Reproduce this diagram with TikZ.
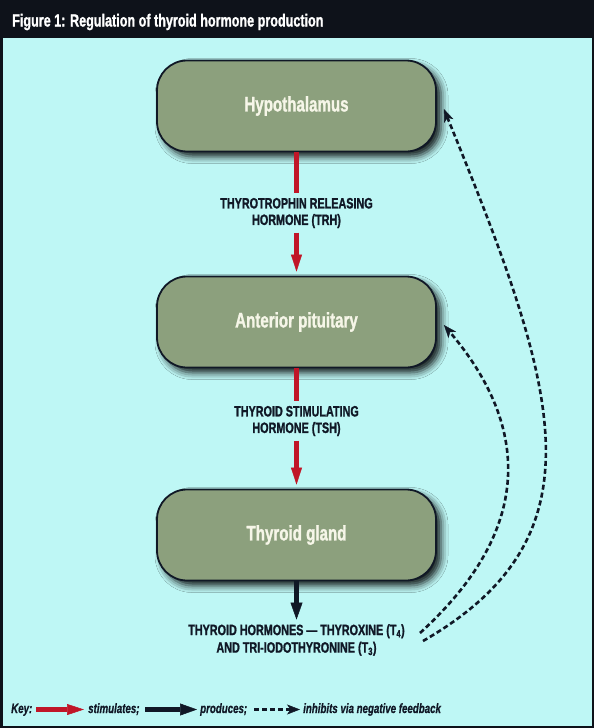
\documentclass[tikz,border=0pt]{standalone}
\usepackage{fontspec}
\setmainfont{Liberation Sans}[FakeStretch=0.72, BoldFeatures={FakeBold=1.2}, BoldItalicFeatures={FakeBold=0.6}]
\usetikzlibrary{arrows.meta,shadows.blur}
\definecolor{bg}{RGB}{190,247,245}
\definecolor{hdr}{RGB}{14,18,26}
\definecolor{navy}{RGB}{16,24,38}
\definecolor{boxc}{RGB}{140,160,125}
\definecolor{boxtxt}{RGB}{246,246,232}
\definecolor{redc}{RGB}{192,22,40}
\tikzset{
  box/.style={draw=navy, line width=1.8pt, fill=boxc, rounded corners=30pt,
    minimum width=279pt, minimum height=91pt, text=boxtxt,
    font=\bfseries\fontsize{21}{24}\selectfont,
    blur shadow={shadow xshift=5pt, shadow yshift=-5pt, shadow blur radius=7pt, shadow opacity=90}},
  lbl/.style={align=center, font=\bfseries\fontsize{15}{16.5}\selectfont, text=navy,
    inner xsep=2pt, inner ysep=4.5pt},
  stim/.style={draw=redc, line width=4.5pt, -{Triangle[length=17pt,width=11pt,line width=0.5pt]}},
  stimline/.style={draw=redc, line width=4.5pt},
  prod/.style={draw=navy, line width=4.5pt, -{Triangle[length=17pt,width=12pt,line width=0.5pt]}},
  fb/.style={draw=navy, line width=2.6pt, dash pattern=on 5pt off 3pt,
    -{Stealth[length=13pt,width=10pt,inset=3.5pt,line width=0.5pt]}},
  keytxt/.style={font=\bfseries\itshape\fontsize{13.5}{16}\selectfont, text=navy,
    inner sep=0pt, text height=10pt, text depth=3pt, anchor=base west},
}
\begin{document}
\begin{tikzpicture}[x=1pt,y=-1pt]
\useasboundingbox (0,0) rectangle (594,728);
\fill[bg] (0,0) rectangle (594,728);
\fill[hdr] (0,0) rectangle (594,38);
\draw[hdr, line width=2.5pt] (1.25,1.25) rectangle (592.75,726.75);
\node[anchor=base west, inner sep=0pt, text=white, font=\bfseries\fontsize{17.5}{20}\selectfont]
  (title) at (12,26.5) {Figure 1: Regulation of thyroid hormone production};

\node[box] (hyp) at (296.5,106) {Hypothalamus};
\node[box] (pit) at (296.5,322) {Anterior pituitary};
\node[box] (thy) at (296.5,535) {Thyroid gland};

\node[lbl] (trh) at (296.5,213) {THYROTROPHIN RELEASING\\HORMONE (TRH)};
\node[lbl] (tsh) at (296.5,421) {THYROID STIMULATING\\HORMONE (TSH)};
\node[lbl, font=\bfseries\fontsize{15}{17.5}\selectfont] (hor) at (296.5,640)
  {THYROID HORMONES — THYROXINE (T\textsubscript{4})\\AND TRI-IODOTHYRONINE (T\textsubscript{3})};

\draw[stimline] (hyp.south) -- (trh.north);
\draw[stim, shorten >=4pt] (trh.south) -- (pit.north);
\draw[stimline] (pit.south) -- (tsh.north);
\draw[stim, shorten >=4pt] (tsh.south) -- (thy.north);
\draw[prod] (thy.south) -- (hor.north);

\coordinate (fb1) at (420,633);
\coordinate (fb2) at (423,641);
\draw[fb] (fb1) .. controls (532,531) and (532,429) .. ([shift={(7,3)}]pit.east);
\draw[fb] (fb2) .. controls (607,535) and (558,388) .. ([shift={(7,3)}]hyp.east);

\node[keytxt] (k0) at (11,713) {Key:};
\node[keytxt] (k1) at (88,713) {stimulates;};
\node[keytxt] (k2) at (200,713) {produces;};
\node[keytxt] (k3) at (303,713) {inhibits via negative feedback};
\coordinate (ks1) at (36,709.5);
\coordinate (ks2) at (145,709.5);
\coordinate (ks3) at (254,709.5);
\draw[stim] (ks1) -- ([xshift=-4pt]k1.west);
\draw[prod] (ks2) -- ([xshift=-3pt]k2.west);
\draw[fb] (ks3) -- ([xshift=-3pt]k3.west);
\end{tikzpicture}
\end{document}
